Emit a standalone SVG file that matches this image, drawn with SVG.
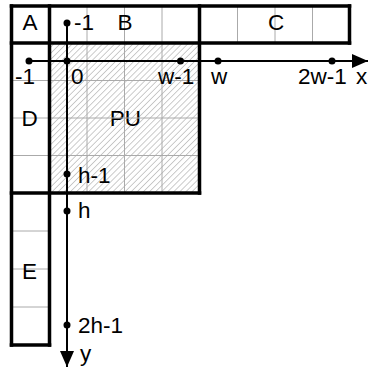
<svg xmlns="http://www.w3.org/2000/svg" width="368" height="372" viewBox="0 0 368 372">
<defs>
<pattern id="hatch" patternUnits="userSpaceOnUse" width="4.3" height="4.3" patternTransform="rotate(45)">
<line x1="0" y1="0" x2="0" y2="4.3" stroke="#8c8c8c" stroke-width="0.9"/>
</pattern>
<marker id="arr" viewBox="0 0 16 14" refX="16" refY="7" markerWidth="16" markerHeight="14" markerUnits="userSpaceOnUse" orient="auto">
<path d="M0,0 L16,7 L0,14 Z" fill="#000"/>
</marker>
</defs>
<style>
.grid{stroke:#aaaaaa;stroke-width:1;fill:none}
.thick{stroke:#000;stroke-width:3.5;fill:none;stroke-linecap:square}
.axis{stroke:#000;stroke-width:2;fill:none}
.dot{fill:#000}
text{font-family:"Liberation Sans",Arial,sans-serif;font-size:22.5px;fill:#000}
.m{text-anchor:middle}
</style>
<rect width="368" height="372" fill="#fff"/>
<g id="PU">
<rect x="49.5" y="43" width="150" height="150" fill="url(#hatch)"/>
<text class="m" x="125.5" y="126">PU</text>
</g>
<g id="grid">
<line class="grid" x1="87" y1="6" x2="87" y2="193"/>
<line class="grid" x1="124.5" y1="6" x2="124.5" y2="193"/>
<line class="grid" x1="162" y1="6" x2="162" y2="193"/>
<line class="grid" x1="237.5" y1="6" x2="237.5" y2="43"/>
<line class="grid" x1="275" y1="6" x2="275" y2="43"/>
<line class="grid" x1="312.5" y1="6" x2="312.5" y2="43"/>
<line class="grid" x1="11.5" y1="80.5" x2="199.5" y2="80.5"/>
<line class="grid" x1="11.5" y1="118" x2="199.5" y2="118"/>
<line class="grid" x1="11.5" y1="155.5" x2="199.5" y2="155.5"/>
<line class="grid" x1="11.5" y1="231" x2="49.5" y2="231"/>
<line class="grid" x1="11.5" y1="269" x2="49.5" y2="269"/>
<line class="grid" x1="11.5" y1="307" x2="49.5" y2="307"/>
</g>
<g id="A"><text class="m" x="30" y="30">A</text></g>
<g id="B"><text class="m" x="125" y="30">B</text></g>
<g id="C"><text class="m" x="276" y="30">C</text></g>
<g id="D"><text class="m" x="29.5" y="126">D</text></g>
<g id="E"><text class="m" x="29.5" y="279">E</text></g>
<g id="borders">
<line class="thick" x1="11.5" y1="6" x2="349.5" y2="6"/>
<line class="thick" x1="11.5" y1="43" x2="349.5" y2="43"/>
<line class="thick" x1="11.5" y1="193" x2="199.5" y2="193"/>
<line class="thick" x1="11.5" y1="345" x2="49.5" y2="345"/>
<line class="thick" x1="11.5" y1="6" x2="11.5" y2="345"/>
<line class="thick" x1="49.5" y1="6" x2="49.5" y2="345"/>
<line class="thick" x1="199.5" y1="6" x2="199.5" y2="193"/>
<line class="thick" x1="349.5" y1="6" x2="349.5" y2="43"/>
</g>
<g id="connectors">
<line class="axis" x1="29" y1="61" x2="368" y2="61" marker-end="url(#arr)"/>
<line class="axis" x1="67" y1="23" x2="67" y2="367" marker-end="url(#arr)"/>
</g>
<g id="xaxis-marks">
<circle class="dot" cx="29" cy="61" r="3.5"/>
<circle class="dot" cx="67" cy="61" r="3.5"/>
<circle class="dot" cx="180.5" cy="61" r="3.5"/>
<circle class="dot" cx="218" cy="61" r="3.5"/>
<circle class="dot" cx="332" cy="61" r="3.5"/>
<text x="15" y="84">-1</text>
<text x="71" y="84">0</text>
<text x="158" y="84">w-1</text>
<text x="211" y="84">w</text>
<text x="298" y="84">2w-1</text>
<text x="356" y="84">x</text>
</g>
<g id="yaxis-marks">
<circle class="dot" cx="67" cy="23" r="3.5"/>
<circle class="dot" cx="67" cy="174" r="3.5"/>
<circle class="dot" cx="67" cy="211" r="3.5"/>
<circle class="dot" cx="67" cy="325" r="3.5"/>
<text x="74" y="30">-1</text>
<text x="78" y="183">h-1</text>
<text x="78" y="218">h</text>
<text x="78" y="333">2h-1</text>
<text x="80" y="361">y</text>
</g>
</svg>
